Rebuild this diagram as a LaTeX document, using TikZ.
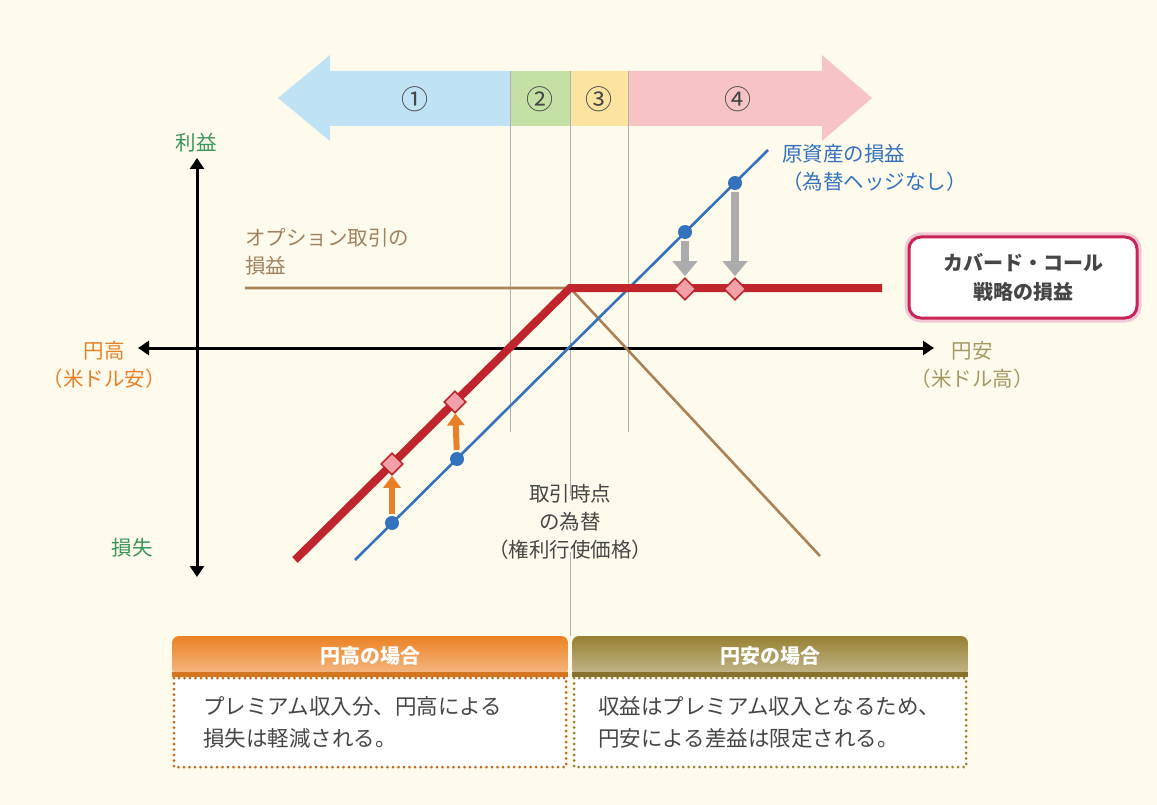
\documentclass[tikz,border=0pt]{standalone}
\usepackage{fontspec}
\setmainfont{Noto Sans CJK JP}
\usetikzlibrary{arrows.meta, positioning, shapes.geometric}
\definecolor{paper}{RGB}{254,251,236}
\definecolor{bandBlue}{RGB}{192,226,245}
\definecolor{bandGreen}{RGB}{197,224,165}
\definecolor{bandYellow}{RGB}{252,228,160}
\definecolor{bandPink}{RGB}{246,196,196}
\definecolor{assetBlue}{RGB}{52,114,190}
\definecolor{ccRed}{RGB}{192,36,44}
\definecolor{diaPink}{RGB}{244,160,168}
\definecolor{optBrown}{RGB}{170,130,88}
\definecolor{gainGreen}{RGB}{58,150,90}
\definecolor{yenOrange}{RGB}{232,128,42}
\definecolor{yenOlive}{RGB}{165,152,100}
\definecolor{hdrOrange}{RGB}{236,130,36}
\definecolor{hdrOlive}{RGB}{150,128,50}
\definecolor{boxRed}{RGB}{200,36,86}
\definecolor{txtGray}{RGB}{70,70,70}
\tikzstyle{zone} = [font=\fontsize{27}{28}\selectfont, text=txtGray, inner sep=0pt]
\tikzstyle{guide} = [draw=gray!60, line width=0.9pt]
\tikzstyle{axisline} = [draw=black, line width=3pt, {Triangle[length=11pt,width=14pt]}-{Triangle[length=11pt,width=14pt]}]
\tikzstyle{optline} = [draw=optBrown, line width=2.6pt]
\tikzstyle{assetline} = [draw=assetBlue, line width=2.6pt]
\tikzstyle{ccline} = [draw=ccRed, line width=8pt]
\tikzstyle{bluedot} = [circle, fill=assetBlue, inner sep=0pt, minimum size=14pt]
\tikzstyle{reddia} = [diamond, draw=ccRed, fill=diaPink, line width=1.6pt, inner sep=0pt, minimum size=22pt]
\tikzstyle{liftarrow} = [draw=yenOrange, line width=6pt, -{Triangle[length=12pt,width=17pt]}, shorten <=2pt]
\tikzstyle{droparrow} = [draw=gray!65, line width=8pt, -{Triangle[length=15pt,width=24pt]}, shorten <=2pt, shorten >=1pt]
\tikzstyle{lbl} = [font=\fontsize{20.5}{28}\selectfont, inner sep=0pt]
\tikzstyle{hdr} = [font=\bfseries\fontsize{20}{24}\selectfont, text=white, inner sep=0pt]
\begin{document}
\begin{tikzpicture}[x=1pt, y=-1pt]
    % paper
    \fill[paper] (0,0) rectangle (1157,805);
    \useasboundingbox (0,0) rectangle (1157,805);

    % range arrow along the top
    \fill[bandBlue] (278,98) -- (330,55) -- (330,71) -- (510,71) -- (510,126) -- (330,126) -- (330,141) -- cycle;
    \fill[bandGreen] (510,71) rectangle (570,126);
    \fill[bandYellow] (570,71) rectangle (628,126);
    \fill[bandPink] (628,71) -- (822,71) -- (822,55) -- (872,98) -- (822,141) -- (822,126) -- (628,126) -- cycle;
    \node[zone] (zone1) at (415,99) {①};
    \node[zone] (zone2) at (540,99) {②};
    \node[zone] (zone3) at (599,99) {③};
    \node[zone] (zone4) at (738,99) {④};

    % guide lines through the zones
    \coordinate (g1top) at (510,71);
    \coordinate (g1bot) at (510,432);
    \coordinate (g2top) at (570,71);
    \coordinate (g3top) at (628,71);
    \coordinate (g3bot) at (628,432);
    \coordinate (hdrTop) at (570,636);
    \node[lbl, text=txtGray, align=center] (rate) at (570,522) {取引時点\\の為替\\（権利行使価格）};
    \draw[guide] (g1top) -- (g1bot);
    \draw[guide] (g3top) -- (g3bot);
    \draw[guide] (g2top) -- ([yshift=-12pt]rate.north);
    \draw[guide] ([yshift=8pt]rate.south) -- (hdrTop);

    % axes
    \coordinate (yBot) at (197,577);
    \coordinate (yTop) at (197,158);
    \coordinate (xLeft) at (138,348);
    \coordinate (xRight) at (934,348);
    \draw[axisline] (yBot) -- (yTop);
    \draw[axisline] (xLeft) -- (xRight);
    \node[lbl, text=gainGreen] (gain) at (196,143) {利益};
    \node[lbl, text=gainGreen] (loss) at (132,548) {損失};
    \node[lbl, text=yenOrange, align=center] (yenHigh) at (104,365) {円高\\（米ドル安）};
    \node[lbl, text=yenOlive, align=center] (yenLow) at (972,365) {円安\\（米ドル高）};

    % pay-off lines
    \coordinate (optL) at (245,288);
    \coordinate (strike) at (570,288);
    \coordinate (optEnd) at (820,556);
    \coordinate (assetL) at (355,560);
    \coordinate (assetR) at (768,150);
    \coordinate (ccL) at (295,560);
    \coordinate (ccR) at (882,288);
    \draw[optline] (optL) -- (strike) -- (optEnd);
    \draw[assetline] (assetL) -- (assetR);
    \draw[ccline] (ccL) -- (strike) -- (ccR);
    \node[lbl, text=optBrown!80!gray, align=left, anchor=south west] (optLbl) at (245,275) {オプション取引の\\損益};
    \node[lbl, text=assetBlue, align=left, anchor=west] (assetLbl) at (782,168) {原資産の損益\\（為替ヘッジなし）};

    % points on the lines
    \node[bluedot] (b1) at (392,523) {};
    \node[bluedot] (b2) at (457,459) {};
    \node[bluedot] (b3) at (685,232) {};
    \node[bluedot] (b4) at (735,183) {};
    \node[reddia] (d1) at (392,464) {};
    \node[reddia] (d2) at (455,402) {};
    \node[reddia] (d3) at (685,289) {};
    \node[reddia] (d4) at (735,289) {};
    \draw[liftarrow] (b1) -- (d1);
    \draw[liftarrow] (b2) -- (d2);
    \draw[droparrow] (b3) -- (d3);
    \draw[droparrow] (b4) -- (d4);

    % strategy box
    \draw[boxRed!25, line width=9pt, rounded corners=12pt] (909,237) rectangle (1137,318);
    \draw[boxRed, fill=white, line width=3pt, rounded corners=12pt] (909,237) rectangle (1137,318);
    \node[lbl, font=\bfseries\fontsize{20}{29}\selectfont, text=txtGray, align=center] (ccBox) at (1023,277) {カバード・コール\\戦略の損益};

    % cases below
    \shade[top color=hdrOrange, bottom color=hdrOrange!55!white, rounded corners=7pt] (172,676) -- (172,636) -- (568,636) -- (568,676) -- cycle;
    \shade[top color=hdrOlive, bottom color=hdrOlive!55!white, rounded corners=7pt] (572,676) -- (572,636) -- (968,636) -- (968,676) -- cycle;
    \fill[hdrOrange!90!black] (172,672) rectangle (568,677);
    \fill[hdrOlive!90!black] (572,672) rectangle (968,677);
    \draw[hdrOrange!80!black, fill=white, line width=3pt, line cap=round, dash pattern=on 0pt off 5.5pt] (174,678) rectangle (566,767);
    \draw[hdrOlive, fill=white, line width=3pt, line cap=round, dash pattern=on 0pt off 5.5pt] (574,678) rectangle (966,767);
    \node[hdr] (highHdr) at (370,656) {円高の場合};
    \node[hdr] (lowHdr) at (770,656) {円安の場合};
    \node[lbl, font=\fontsize{21.5}{32}\selectfont, text=txtGray, align=left, anchor=west] (highTxt) at (203,722) {プレミアム収入分、円高による\\損失は軽減される。};
    \node[lbl, font=\fontsize{21.5}{32}\selectfont, text=txtGray, align=left, anchor=west] (lowTxt) at (598,722) {収益はプレミアム収入となるため、\\円安による差益は限定される。};
\end{tikzpicture}
\end{document}
